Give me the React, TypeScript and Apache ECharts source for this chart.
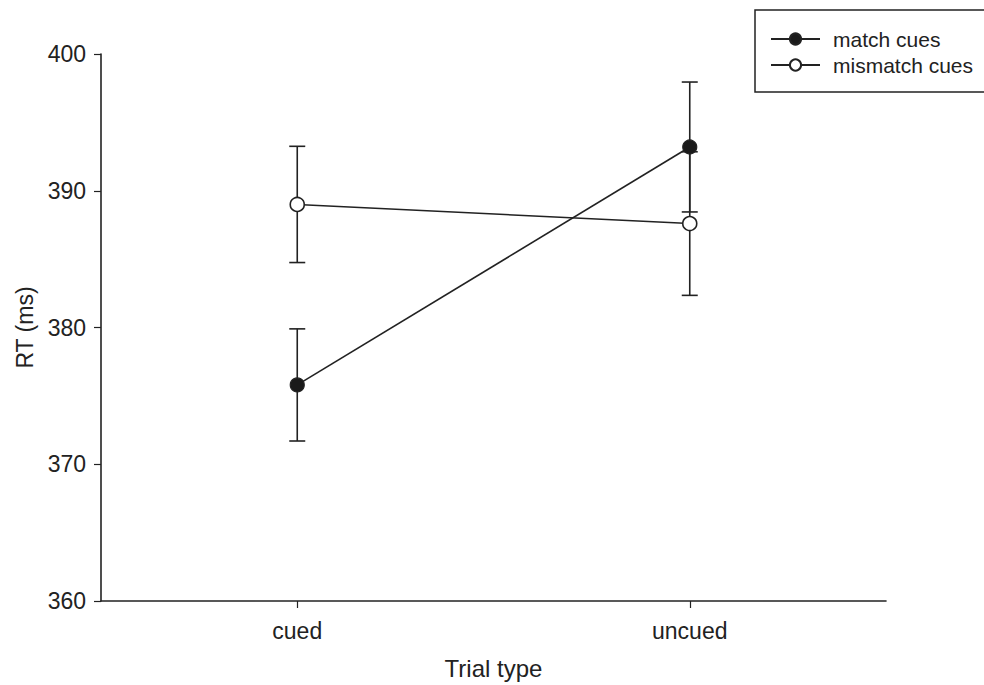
import React, { useEffect, useRef } from "react";
import * as echarts from "echarts";

const categories = ["cued", "uncued"];
const matchMean = [375.8, 393.2];
const matchErr = [4.1, 4.75];
const mismatchMean = [389.0, 387.6];
const mismatchErr = [4.25, 5.25];
const yTicks = { min: 360, max: 400, interval: 10 };

const FONT = "'Liberation Sans', Arial, Helvetica, sans-serif";
const INK = "#222";

function errorSeries(name: string, means: number[], errs: number[]) {
  return {
    type: "custom",
    name: name + " err",
    z: 1,
    silent: true,
    data: means.map((m, i) => [i, m - errs[i], m + errs[i]]),
    renderItem: (params: any, api: any) => {
      const x = api.value(0);
      const lo = api.coord([x, api.value(1)]);
      const hi = api.coord([x, api.value(2)]);
      const w = 8;
      const style = { stroke: INK, lineWidth: 1.6 };
      return {
        type: "group",
        children: [
          { type: "line", shape: { x1: lo[0], y1: lo[1], x2: hi[0], y2: hi[1] }, style },
          { type: "line", shape: { x1: lo[0] - w, y1: lo[1], x2: lo[0] + w, y2: lo[1] }, style },
          { type: "line", shape: { x1: hi[0] - w, y1: hi[1], x2: hi[0] + w, y2: hi[1] }, style },
        ],
      };
    },
  };
}

export default function App() {
  const ref = useRef<HTMLDivElement>(null);
  useEffect(() => {
    if (!ref.current) return;
    const chart = echarts.init(ref.current, null, { renderer: "svg" });
    chart.setOption({
      animation: false,
      backgroundColor: "#fff",
      textStyle: { fontFamily: FONT, color: INK },
      grid: { left: 101, right: 98, top: 54, bottom: 83 },
      legend: {
        left: 755,
        top: 10,
        orient: "vertical",
        padding: [18, 60, 16, 15],
        borderColor: INK,
        borderWidth: 1.5,
        borderRadius: 0,
        itemWidth: 49,
        itemHeight: 14,
        itemGap: 4,
        data: ["match cues", "mismatch cues"],
        textStyle: { fontFamily: FONT, fontSize: 21, color: INK, lineHeight: 22, padding: [0, 0, 0, 8] },
      },
      xAxis: {
        type: "category",
        data: categories,
        boundaryGap: true,
        name: "Trial type",
        nameLocation: "middle",
        nameGap: 55,
        nameTextStyle: { fontFamily: FONT, fontSize: 24, color: INK },
        axisLine: { show: true, lineStyle: { color: INK, width: 1.6 } },
        axisTick: { show: true, alignWithLabel: true, length: 7, lineStyle: { color: INK, width: 1.2 } },
        axisLabel: { fontFamily: FONT, fontSize: 23, color: INK, margin: 18 },
        splitLine: { show: false },
      },
      yAxis: {
        type: "value",
        min: yTicks.min,
        max: yTicks.max,
        interval: yTicks.interval,
        name: "RT (ms)",
        nameLocation: "middle",
        nameGap: 64,
        nameTextStyle: { fontFamily: FONT, fontSize: 23, color: INK },
        axisLine: { show: true, lineStyle: { color: INK, width: 1.6 } },
        axisTick: { show: true, length: 7, lineStyle: { color: INK, width: 1.2 } },
        axisLabel: { fontFamily: FONT, fontSize: 23, color: INK, margin: 15 },
        splitLine: { show: false },
      },
      series: [
        errorSeries("match cues", matchMean, matchErr),
        errorSeries("mismatch cues", mismatchMean, mismatchErr),
        {
          type: "line",
          name: "match cues",
          z: 3,
          data: matchMean,
          symbol: "circle",
          symbolSize: 14,
          lineStyle: { color: INK, width: 1.6 },
          itemStyle: { color: "#1a1a1a", borderColor: INK, borderWidth: 1.2 },
        },
        {
          type: "line",
          name: "mismatch cues",
          z: 3,
          data: mismatchMean,
          symbol: "circle",
          symbolSize: 14,
          lineStyle: { color: INK, width: 1.6 },
          itemStyle: { color: "#fff", borderColor: INK, borderWidth: 1.6 },
        },
      ],
    });
    return () => chart.dispose();
  }, []);
  return <div ref={ref} style={{ position: "fixed", left: 0, top: 0, width: 984, height: 685 }} />;
}
